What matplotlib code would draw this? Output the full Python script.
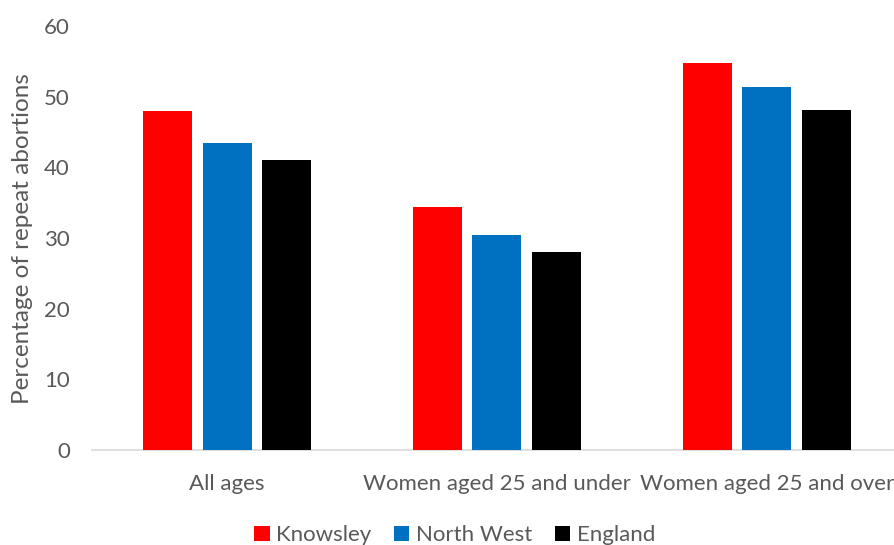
import numpy as np
import matplotlib.pyplot as plt
from matplotlib.patches import Patch

plt.rcParams["font.family"] = ["Lato", "DejaVu Sans"]

categories = ["All ages", "Women aged 25 and under", "Women aged 25 and over"]
series_names = ["Knowsley", "North West", "England"]
knowsley = [48.0, 34.4, 54.8]
north_west = [43.4, 30.4, 51.4]
england = [41.0, 28.1, 48.2]
yticks = [0, 10, 20, 30, 40, 50, 60]

colors = ["#ff0000", "#0070c0", "#000000"]
text_grey = "#595959"

fig = plt.figure(figsize=(8.95, 5.45), dpi=100)
ax = fig.add_axes([0.1028, 0.1743, 0.905, 0.7777])

x = np.arange(len(categories))
width = 0.1815
step = 0.222
for i, (vals, name) in enumerate(zip([knowsley, north_west, england], series_names)):
    ax.bar(x + (i - 1) * step, vals, width=width, color=colors[i], label=name, zorder=3)

ax.set_xlim(-0.5, len(categories) - 0.5)
ax.set_ylim(0, 60)
ax.set_yticks(yticks)
ax.set_xticks(x)
ax.set_xticklabels(categories)
ax.tick_params(axis="both", length=0, labelsize=16, colors=text_grey)
ax.tick_params(axis="y", pad=16)
ax.tick_params(axis="x", pad=17)
ax.set_ylabel("Percentage of repeat abortions", fontsize=17.5, color=text_grey, labelpad=8)

for side in ["top", "right", "left"]:
    ax.spines[side].set_visible(False)
ax.spines["bottom"].set_color("#d9d9d9")
ax.spines["bottom"].set_linewidth(1.2)

handles = [Patch(facecolor=c, label=n) for c, n in zip(colors, series_names)]
leg = fig.legend(handles=handles, loc="center", bbox_to_anchor=(0.508, 0.018), ncol=3,
                 frameon=False, fontsize=16, handlelength=0.7, handleheight=0.7,
                 handletextpad=0.3, columnspacing=1.0)
for t in leg.get_texts():
    t.set_color(text_grey)

fig.savefig("out.png", dpi=100)
